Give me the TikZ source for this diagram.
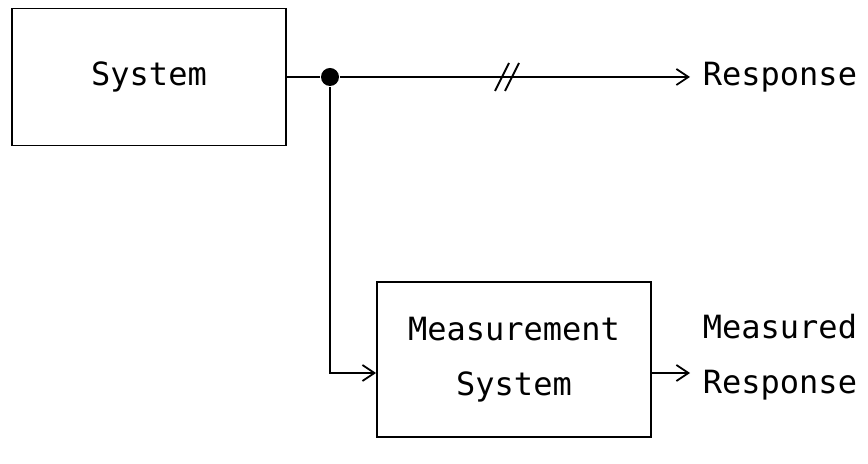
\documentclass[tikz,border=0pt]{standalone}
\usepackage{fontspec}
\setmonofont{DejaVu Sans Mono}
\usepackage{tikz}
\usetikzlibrary{positioning, arrows.meta}

\begin{document}
\begin{tikzpicture}[x=0.5pt, y=-0.5pt, line width=0.9pt,
  >={Straight Barb[length=6pt, width=8pt, line width=0.9pt]},
  txt/.style={font=\ttfamily\fontsize{16}{27.5}\selectfont, align=left, inner sep=0pt},
  block/.style={draw, txt, align=center, minimum width=137pt}]
  \useasboundingbox (0,0) rectangle (868,464);
  % blocks
  \node[block, minimum height=68.5pt] (sys) at (149,77) {System};
  \node[block, minimum height=77.5pt] (meas) at (514,359.5) {Measurement\\System};
  % junction and response line
  \node[circle, fill, minimum size=9pt, inner sep=0pt] (junc) at (330,77) {};
  \coordinate (respend) at (690,77);
  \draw (sys.east) -- (junc);
  \draw[->] (junc) -- (respend);
  \draw (495,91) -- (509,63) (505,91) -- (519,63);
  \node[txt, anchor=west, right=6pt of respend] (resp) {Response};
  % measurement branch
  \coordinate (measin) at (meas.west |- 0,373);
  \coordinate (measout) at (meas.east |- 0,373);
  \coordinate (mrend) at (690,373);
  \draw[->] (junc) |- (measin);
  \draw[->] (measout) -- (mrend);
  \node[txt, anchor=west] (mresp) at (702,357.5) {Measured\\Response};
\end{tikzpicture}
\end{document}
